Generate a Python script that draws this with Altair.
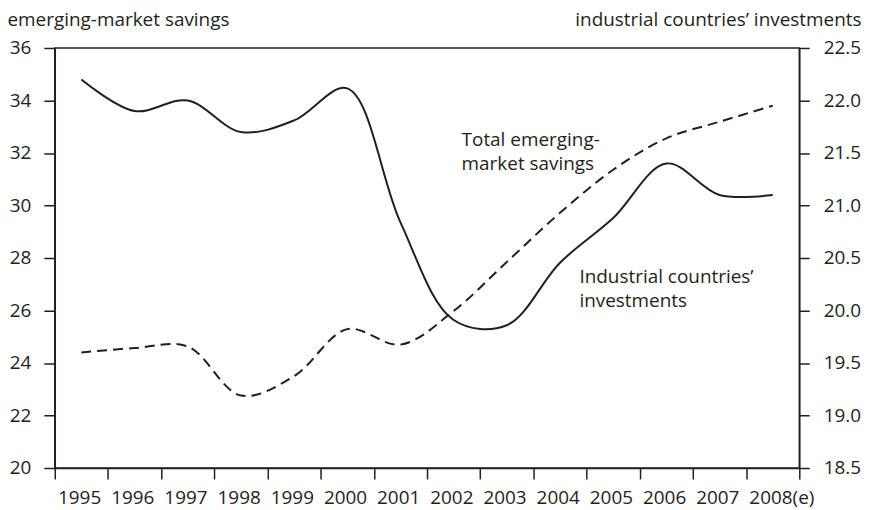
import altair as alt
import pandas as pd

years = ["1995", "1996", "1997", "1998", "1999", "2000", "2001",
         "2002", "2003", "2004", "2005", "2006", "2007", "2008(e)"]
# Total emerging-market savings (left axis, dashed)
em_savings = [24.4, 24.57, 24.63, 22.76, 23.5, 25.29, 24.7,
              25.98, 27.85, 29.72, 31.36, 32.56, 33.19, 33.8]
# Industrial countries' investments (right axis, solid)
ind_invest = [22.2, 21.9, 22.0, 21.7, 21.81, 22.115, 20.84,
              19.91, 19.86, 20.455, 20.88, 21.40, 21.10, 21.10]

left_ticks = [20, 22, 24, 26, 28, 30, 32, 34, 36]
right_ticks = [18.5, 19.0, 19.5, 20.0, 20.5, 21.0, 21.5, 22.0, 22.5]

df = pd.DataFrame({"year": years, "savings": em_savings, "invest": ind_invest})
one_row = pd.DataFrame({"k": [0]})

INK = "#231f20"
FONT = "Open Sans"
FS = 19

x_enc = alt.X(
    "year:N",
    sort=years,
    bandPosition=0.5,
    scale=alt.Scale(type="band", paddingInner=0, paddingOuter=0),
    axis=alt.Axis(title=None, labelAngle=0, tickBand="extent", tickSize=11,
                  labelPadding=10, labelFontSize=FS, labelAlign="left",
                  labelOffset=-24),
)

base = alt.Chart(df)

sav_line = base.mark_line(
    color=INK, strokeWidth=2, strokeDash=[10, 6], interpolate="catmull-rom"
).encode(
    x=x_enc,
    y=alt.Y(
        "savings:Q",
        scale=alt.Scale(domain=[20, 36], nice=False, zero=False),
        axis=alt.Axis(
            values=left_ticks, orient="left", tickSize=11, labelPadding=13,
            title="emerging-market savings", titleAngle=0, titleAlign="left",
            titleBaseline="alphabetic", titleX=-48, titleY=-22.5,
            titleFontWeight="normal", titleFontSize=FS, titleFont=FONT,
            titleColor=INK,
        ),
    ),
)

sav_text = alt.Chart(one_row).mark_text(
    align="left", baseline="alphabetic", font=FONT, fontSize=FS, color=INK,
    lineHeight=24, dx=8,
).encode(
    x=alt.datum("2002"),
    y=alt.datum(32.28),
    text=alt.value(["Total emerging-", "market savings"]),
)

inv_line = base.mark_line(
    color=INK, strokeWidth=2, interpolate="catmull-rom"
).encode(
    x=x_enc,
    y=alt.Y(
        "invest:Q",
        scale=alt.Scale(domain=[18.5, 22.5], nice=False, zero=False),
        axis=alt.Axis(
            values=right_ticks, orient="right", format=".1f", tickSize=10,
            labelPadding=14,
            title="industrial countries\u2019 investments", titleAngle=0,
            titleAlign="right", titleBaseline="alphabetic", titleX=62,
            titleY=-22.5,
            titleFontWeight="normal", titleFontSize=FS, titleFont=FONT,
            titleColor=INK,
        ),
    ),
)

inv_text = alt.Chart(one_row).mark_text(
    align="left", baseline="alphabetic", font=FONT, fontSize=FS, color=INK,
    lineHeight=24, dx=19.5,
).encode(
    x=alt.datum("2004"),
    y=alt.datum(20.26),
    text=alt.value(["Industrial countries\u2019", "investments"]),
)

chart = (
    alt.layer(
        alt.layer(sav_line, sav_text),
        alt.layer(inv_line, inv_text),
    )
    .resolve_scale(y="independent")
    .properties(
        width=748, height=422,
        autosize=alt.AutoSizeParams(type="none"),
        padding={"left": 47, "top": 39, "right": 64, "bottom": 40},
    )
    .configure_view(stroke=INK, strokeWidth=1.5)
    .configure_axis(
        grid=False, domainColor=INK, domainWidth=1.5, tickColor=INK,
        tickWidth=1.5, labelColor=INK, labelFont=FONT, labelFontSize=FS,
    )
)

chart.save("out.html", embed_options={"renderer": "svg", "actions": False})
